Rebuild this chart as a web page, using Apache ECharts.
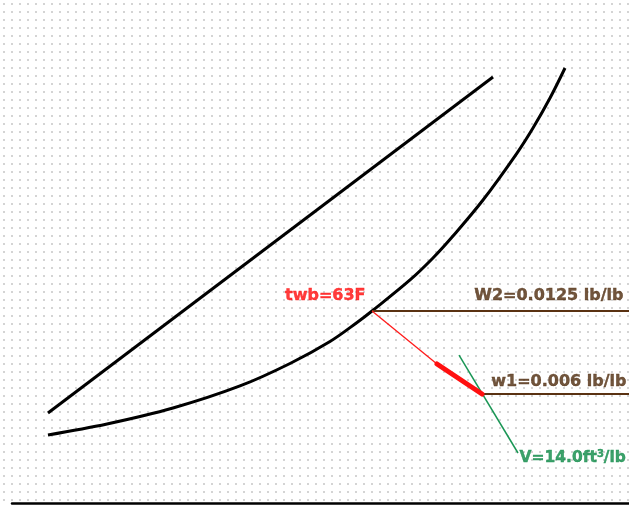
<!DOCTYPE html>
<html><head><meta charset="utf-8">
<script src="https://cdn.jsdelivr.net/npm/echarts@6/dist/echarts.min.js"></script>
<style>html,body{margin:0;padding:0;background:#fff}#c{width:629px;height:506px}</style>
</head><body><div id="c"></div>
<script>
// Schematic psychrometric chart (x: arbitrary dry-bulb scale 0-100, y: humidity ratio lb/lb)
const saturationCurve = [
  [5.83,0.00279],[15.40,0.00365],[26.09,0.00490],[36.95,0.00663],[45.06,0.00839],
  [51.54,0.01011],[55.92,0.01160],[58.35,0.0125],[64.51,0.01493],[68.23,0.01665],[71.47,0.01837],
  [76.34,0.02119],[81.85,0.02487],[84.44,0.02683],[87.20,0.02918],[89.63,0.03153]
];
const upperLine = [[5.83,0.00451],[77.96,0.03082]];
const W2 = 0.0125;
const w1 = 0.006;
const twbPoint = [58.35, W2];
const arrowKink = [68.88, 0.00835];
const statePoint = [76.18, w1];
const volumeLine = [[72.45,0.00905],[82.01,0.00138]];
const twbLabel = 'twb=63F';
const W2Label = 'W2=' + W2 + ' lb/lb';
const w1Label = 'w1=' + w1 + ' lb/lb';
const vLabel = '{a|V=14.0ft}{s|3}{a|/lb}';
const xMax = 100;

const tile = document.createElement('canvas');
tile.width = 8; tile.height = 8;
const tctx = tile.getContext('2d');
tctx.fillStyle = '#d4d4d4';
tctx.fillRect(3, 3, 2, 2);

const FONT = 'DejaVu Sans';
const BROWN = '#5a3212';
const chart = echarts.init(document.getElementById('c'));
const txt = (color, size) => ({ color: color, fontFamily: FONT, fontWeight: 'bold', fontSize: size,
  textBorderColor: color, textBorderWidth: 0.4 });
const lbl = (pt, text, color, pos, align, size) => ({
  value: pt,
  label: Object.assign({ show: true, formatter: text, position: pos, align: align, verticalAlign: 'middle',
    rich: { a: txt(color, size), s: Object.assign(txt(color, 10), { verticalAlign: 'top', padding: [0, 0, 6, 0] }) } },
    txt(color, size))
});

chart.setOption({
  backgroundColor: { image: tile, repeat: 'repeat' },
  animation: false,
  grid: { left: 12, right: 0, top: 0, bottom: 3 },
  xAxis: { type: 'value', min: 0, max: xMax,
    axisLine: { show: true, onZero: false, lineStyle: { color: '#000', width: 2.5 } },
    axisTick: { show: false }, axisLabel: { show: false }, splitLine: { show: false } },
  yAxis: { type: 'value', min: -0.002536, max: 0.036854, show: false, splitLine: { show: false } },
  series: [
    { type: 'line', data: saturationCurve, smooth: 0.35, symbol: 'none', lineStyle: { color: '#000', width: 3 } },
    { type: 'line', data: upperLine, symbol: 'none', lineStyle: { color: '#000', width: 3 } },
    { type: 'line', data: [twbPoint, [xMax, W2]], symbol: 'none', lineStyle: { color: BROWN, width: 2 } },
    { type: 'line', data: [statePoint, [xMax, w1]], symbol: 'none', lineStyle: { color: BROWN, width: 2 } },
    { type: 'line', data: volumeLine, symbol: 'none', lineStyle: { color: '#1a9655', width: 1.5 } },
    { type: 'line', data: [twbPoint, arrowKink], symbol: 'none', lineStyle: { color: '#ff1a1a', width: 1.3 } },
    { type: 'line', data: [arrowKink, statePoint], symbol: 'none', lineStyle: { color: '#ff1010', width: 5, cap: 'round' } },
    { type: 'scatter', symbolSize: 1, itemStyle: { color: 'rgba(0,0,0,0)' }, silent: true,
      data: [
        lbl(twbPoint, twbLabel, '#ff0a0a', [-6, -15], 'right', 16),
        lbl([xMax, W2], W2Label, '#4e2a0c', [-5, -15], 'right', 16),
        lbl([xMax, w1], w1Label, '#4e2a0c', [-2, -12], 'right', 16),
        lbl(volumeLine[1], vLabel, '#0c8a46', [2, 5], 'left', 15.5)
      ] }
  ]
});
</script></body></html>
